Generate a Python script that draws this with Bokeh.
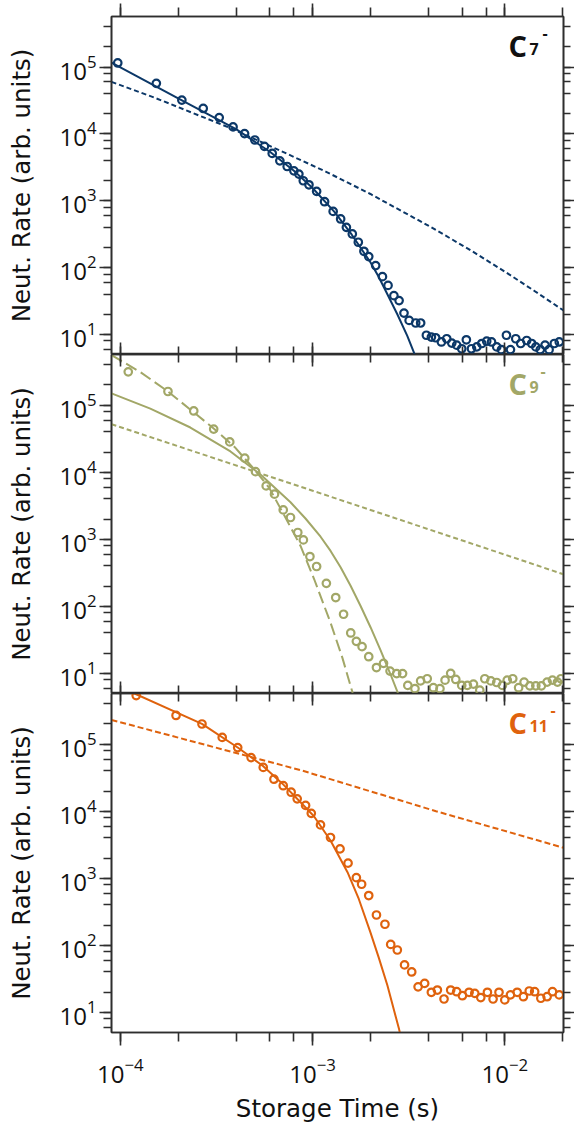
from bokeh.plotting import figure
from bokeh.models import LogAxis, LogTicker, Label, Range1d, ColumnDataSource
from bokeh.layouts import column
from bokeh.embed import file_html
from bokeh.resources import INLINE

# ---------------- data ----------------
X_RANGE = (9.0e-5, 2.02e-2)
Y_RANGE = (5.0, 5.7e5)

c7_t = [9.7e-5, 1.54e-4, 2.09e-4, 2.70e-4, 3.27e-4, 3.86e-4, 4.43e-4, 5.01e-4, 5.62e-4, 6.17e-4,
        6.76e-4, 7.38e-4, 8.0e-4, 8.49e-4, 8.95e-4, 9.58e-4, 1.05e-3, 1.155e-3, 1.28e-3, 1.40e-3,
        1.50e-3, 1.61e-3, 1.73e-3, 1.85e-3, 1.96e-3, 2.13e-3, 2.31e-3, 2.47e-3, 2.65e-3, 2.82e-3,
        2.99e-3, 3.18e-3, 3.44e-3, 3.65e-3, 3.91e-3, 4.15e-3, 4.37e-3, 4.68e-3, 4.99e-3, 5.30e-3,
        5.62e-3, 5.97e-3, 6.31e-3, 6.71e-3, 7.15e-3, 7.59e-3, 8.05e-3, 8.53e-3, 9.08e-3, 9.61e-3,
        1.02e-2, 1.07e-2, 1.14e-2, 1.21e-2, 1.30e-2, 1.38e-2, 1.45e-2, 1.53e-2, 1.62e-2, 1.70e-2,
        1.81e-2, 1.92e-2]
c7_rate = [1.15e5, 5.7e4, 3.2e4, 2.4e4, 1.75e4, 1.27e4, 1.01e4, 8.1e3, 6.5e3, 5.1e3,
           3.95e3, 3.25e3, 2.8e3, 2.5e3, 1.99e3, 1.73e3, 1.38e3, 966, 692, 533,
           399, 318, 239, 175, 146, 107, 73, 54, 38, 32,
           20.8, 16.2, 14.8, 14.8, 9.7, 9.1, 8.9, 7.7, 8.6, 7.4,
           6.9, 6.1, 8.3, 6.1, 6.5, 7.3, 7.9, 7.7, 6.5, 5.9,
           9.7, 5.9, 8.6, 7.3, 8.1, 7.3, 6.5, 5.9, 6.9, 5.9,
           7.3, 7.7]
c7_fit_t = [9.0e-5, 2.0e-4, 4.0e-4, 6.0e-4, 8.0e-4, 1.0e-3, 1.3e-3, 1.6e-3, 2.0e-3, 2.2e-3,
            2.4e-3, 2.76e-3, 3.11e-3, 3.4e-3, 3.6e-3]
c7_fit = [1.16e5, 3.4e4, 1.18e4, 5.4e3, 2.8e3, 1.55e3, 680, 310, 120, 74,
          45, 20, 9.5, 5.0, 3.0]
c7_dash_t = [9.0e-5, 1.5e-4, 3.74e-4, 6.8e-4, 1.17e-3, 2.0e-3, 4.0e-3, 6.39e-3, 1.0e-2, 1.42e-2, 2.02e-2]
c7_dash = [6.0e4, 3.5e4, 1.22e4, 5.6e3, 2.73e3, 1.26e3, 424, 194, 87, 45, 22.8]

c9_t = [1.10e-4, 1.77e-4, 2.41e-4, 3.06e-4, 3.71e-4, 4.44e-4, 5.05e-4, 5.74e-4, 6.34e-4, 7.04e-4,
        7.68e-4, 8.38e-4, 8.96e-4, 9.69e-4, 1.05e-3, 1.18e-3, 1.32e-3, 1.45e-3, 1.58e-3, 1.69e-3,
        1.81e-3, 1.96e-3, 2.15e-3, 2.34e-3, 2.53e-3, 2.74e-3, 2.94e-3, 3.13e-3, 3.41e-3, 3.65e-3,
        3.95e-3, 4.25e-3, 4.6e-3, 4.89e-3, 5.23e-3, 5.56e-3, 5.97e-3, 6.39e-3, 6.87e-3, 7.41e-3,
        7.87e-3, 8.46e-3, 9.08e-3, 9.72e-3, 1.03e-2, 1.10e-2, 1.18e-2, 1.26e-2, 1.35e-2, 1.45e-2,
        1.55e-2, 1.66e-2, 1.77e-2, 1.88e-2, 1.96e-2]
c9_rate = [3.14e5, 1.6e5, 8.2e4, 4.4e4, 2.83e4, 1.62e4, 1.02e4, 6.25e3, 4.7e3, 2.74e3,
           2.11e3, 1.26e3, 977, 552, 392, 220, 135, 76, 40, 30,
           25, 17.7, 12.2, 14.1, 10.8, 9.9, 9.9, 6.6, 5.9, 7.7,
           8.3, 6.1, 5.9, 7.9, 10, 8.1, 6.6, 6.6, 6.9, 5.6,
           8.3, 7.7, 7.3, 6.6, 7.9, 8.3, 6.1, 7.4, 6.5, 6.5,
           6.5, 7.4, 7.9, 7.4, 8.3]
c9_fit_t = [9.0e-5, 1.433e-4, 2.315e-4, 3.741e-4, 5.36e-4, 7.68e-4, 9.19e-4, 1.101e-3, 1.241e-3,
            1.399e-3, 1.577e-3, 1.778e-3, 2.005e-3, 2.26e-3, 2.547e-3, 2.872e-3]
c9_fit = [1.5e5, 8.87e4, 4.64e4, 2.04e4, 9.24e3, 3.56e3, 2.04e3, 1.09e3, 669,
          381, 202, 101, 48.3, 22.0, 9.6, 4.0]
c9_ldash_t = [9.0e-5, 1.27e-4, 1.77e-4, 3.06e-4, 3.94e-4, 5.05e-4, 5.95e-4, 7.0e-4, 8.66e-4,
              1.02e-3, 1.24e-3, 1.43e-3, 1.61e-3, 1.7e-3]
c9_ldash = [5.6e5, 3.12e5, 1.6e5, 4.5e4, 2.36e4, 1.05e4, 5.85e3, 2.5e3, 794,
            253, 57, 17, 5.3, 2.5]
c9_dash_t = [9.0e-5, 1.0e-3, 1.0e-2, 2.02e-2]
c9_dash = [5.2e4, 5.3e3, 590, 300]

c11_t = [1.21e-4, 1.95e-4, 2.66e-4, 3.39e-4, 4.08e-4, 4.79e-4, 5.54e-4, 6.30e-4, 7.04e-4, 7.74e-4,
         8.32e-4, 9.2e-4, 9.85e-4, 1.10e-3, 1.24e-3, 1.39e-3, 1.53e-3, 1.69e-3, 1.80e-3, 1.96e-3,
         2.15e-3, 2.38e-3, 2.55e-3, 2.76e-3, 3.01e-3, 3.28e-3, 3.54e-3, 3.83e-3, 4.15e-3, 4.46e-3,
         4.83e-3, 5.23e-3, 5.62e-3, 6.02e-3, 6.52e-3, 6.98e-3, 7.50e-3, 8.12e-3, 8.69e-3, 9.33e-3,
         1.0e-2, 1.07e-2, 1.16e-2, 1.25e-2, 1.34e-2, 1.43e-2, 1.54e-2, 1.66e-2, 1.77e-2, 1.92e-2]
c11_rate = [5.3e5, 2.68e5, 2.0e5, 1.26e5, 8.9e4, 6.3e4, 4.5e4, 3.0e4, 2.4e4, 1.92e4,
            1.53e4, 1.22e4, 9.3e3, 6.25e3, 4.05e3, 2.74e3, 1.68e3, 1.02e3, 813, 552,
            283, 206, 103, 85, 51, 40, 24, 27, 19.9, 21.5,
            15.8, 21.5, 20.3, 17.7, 19.9, 19.2, 16.6, 19.9, 15.8, 19.9,
            15.3, 18.2, 19.9, 17.1, 20.8, 20.3, 16.2, 17.1, 20.3, 18.2]
c11_fit_t = [1.17e-4, 2.66e-4, 4.08e-4, 5.54e-4, 6.95e-4, 8.66e-4, 1.017e-3, 1.24e-3, 1.52e-3,
             1.74e-3, 2.0e-3, 2.21e-3, 2.45e-3, 2.82e-3, 2.94e-3]
c11_fit = [5.8e5, 2.01e5, 8.93e4, 4.7e4, 2.6e4, 1.36e4, 8.4e3, 3.66e3, 1.23e3,
           491, 156, 65.5, 25.3, 5.57, 3.3]
c11_dash_t = [9.0e-5, 3.0e-4, 8.66e-4, 4.39e-3, 2.02e-2]
c11_dash = [2.3e5, 9.2e4, 4.1e4, 1.0e4, 2.85e3]

# ---------------- style ----------------
NAVY = "#0c3868"
OLIVE = "#a2a767"
ORANGE = "#df620d"
FRAME = "#2e2e2e"
TICK_FONT = "Open Sans"
LABEL_FONT = "DejaVu Sans"
FRAME_W = 452
LEFT_BORDER = 111


def style_axis(ax, major_out, minor_out, major_in=0, minor_in=0, labels=False):
    ax.ticker = LogTicker(num_minor_ticks=5)
    ax.major_tick_out = major_out
    ax.minor_tick_out = minor_out
    ax.major_tick_in = major_in
    ax.minor_tick_in = minor_in
    ax.axis_line_color = FRAME
    ax.axis_line_width = 1.6
    ax.major_tick_line_color = FRAME
    ax.minor_tick_line_color = FRAME
    ax.major_tick_line_width = 1.6
    ax.minor_tick_line_width = 1.6
    if labels:
        ax.major_label_text_font = TICK_FONT
        ax.major_label_text_font_size = "24px"
        ax.major_label_text_color = "#111111"
    else:
        ax.major_label_text_color = None
        ax.major_label_standoff = 0


def make_panel(frame_h, first, bottom_labels):
    p = figure(x_axis_type="log", y_axis_type="log",
               x_range=Range1d(*X_RANGE), y_range=Range1d(*Y_RANGE),
               frame_width=FRAME_W, frame_height=frame_h,
               x_axis_location=None, y_axis_location=None,
               output_backend="svg", toolbar_location=None,
               min_border=0, min_border_left=LEFT_BORDER,
               min_border_top=16 if first else 0)
    p.grid.visible = False
    p.outline_line_color = FRAME
    p.outline_line_width = 1.6
    p.background_fill_color = "white"
    p.border_fill_color = "white"

    left = LogAxis()
    style_axis(left, 12, 8, labels=True)
    left.major_label_standoff = 3
    left.axis_label = "Neut. Rate (arb. units)"
    left.axis_label_text_font = LABEL_FONT
    left.axis_label_text_font_size = "24.5px"
    left.axis_label_text_font_style = "normal"
    left.axis_label_text_color = "#111111"
    left.axis_label_standoff = 20
    p.add_layout(left, "left")

    right = LogAxis()
    style_axis(right, 11, 7)
    p.add_layout(right, "right")

    top = LogAxis()
    if first:
        style_axis(top, 13, 9)
    else:
        style_axis(top, 0, 0, major_in=12, minor_in=8)
    p.add_layout(top, "above")

    bottom = LogAxis()
    if bottom_labels:
        style_axis(bottom, 13, 9, labels=True)
        bottom.major_label_standoff = 12
        bottom.axis_label = "Storage Time (s)"
        bottom.axis_label_text_font = LABEL_FONT
        bottom.axis_label_text_font_size = "24.5px"
        bottom.axis_label_text_font_style = "normal"
        bottom.axis_label_text_color = "#111111"
        bottom.axis_label_standoff = 8
    else:
        style_axis(bottom, 0, 0, major_in=12, minor_in=8)
    p.add_layout(bottom, "below")
    return p


def add_tag(p, frame_h, sub, color, sup_x):
    common = dict(x_units="screen", y_units="screen", text_font="Open Sans",
                  text_font_style="bold", text_color=color, text_baseline="alphabetic")
    p.add_layout(Label(x=397, y=frame_h - 28.5, text="C", text_font_size="29px", **common))
    p.add_layout(Label(x=418, y=frame_h - 32, text=sub, text_font_size="16px", **common))
    p.add_layout(Label(x=sup_x, y=frame_h - 16, text="-", text_font_size="16px", **common))


def add_series(p, t, rate, color):
    src = ColumnDataSource(dict(t=t, r=rate))
    p.scatter("t", "r", source=src, marker="circle", size=7.5, line_width=2.2,
              line_color=color, fill_color=None)


# ---------------- panels ----------------
p1 = make_panel(338, True, False)
p1.line(c7_dash_t, c7_dash, line_color=NAVY, line_width=2, line_dash="5 3")
p1.line(c7_fit_t, c7_fit, line_color=NAVY, line_width=2)
add_series(p1, c7_t, c7_rate, NAVY)
add_tag(p1, 338, "7", "#111111", 431)

p2 = make_panel(339, False, False)
p2.line(c9_dash_t, c9_dash, line_color=OLIVE, line_width=2, line_dash="5 3")
p2.line(c9_ldash_t, c9_ldash, line_color=OLIVE, line_width=2, line_dash="12 5")
p2.line(c9_fit_t, c9_fit, line_color=OLIVE, line_width=2)
add_series(p2, c9_t, c9_rate, OLIVE)
add_tag(p2, 339, "9", OLIVE, 429)

p3 = make_panel(339, False, True)
p3.line(c11_dash_t, c11_dash, line_color=ORANGE, line_width=2, line_dash="6 3")
p3.line(c11_fit_t, c11_fit, line_color=ORANGE, line_width=2)
add_series(p3, c11_t, c11_rate, ORANGE)
add_tag(p3, 339, "11", ORANGE, 439)

layout = column(p1, p2, p3, spacing=0)

open("out.html", "w").write(file_html(layout, INLINE))
